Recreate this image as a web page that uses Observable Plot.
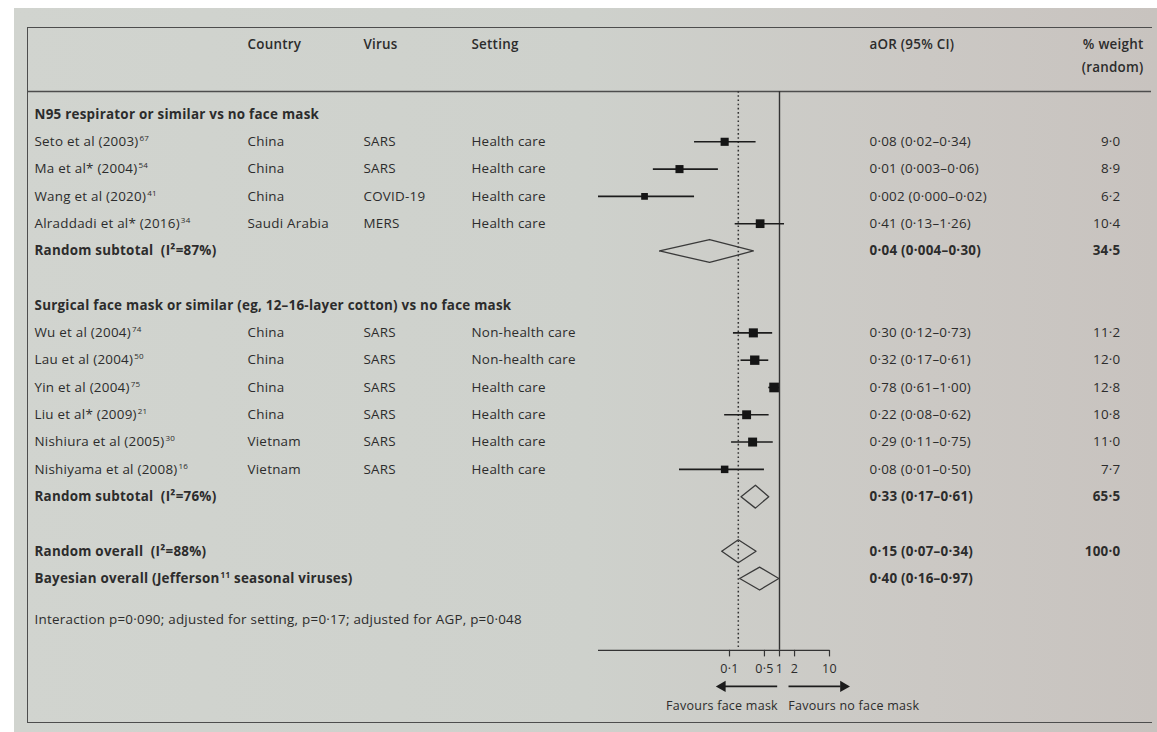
<!DOCTYPE html>
<html>
<head>
<meta charset="utf-8">
<script src="https://cdn.jsdelivr.net/npm/d3@7"></script>
<script src="https://cdn.jsdelivr.net/npm/@observablehq/plot@0.6"></script>
<style>
  html, body { margin: 0; padding: 0; background: #ffffff; width: 1157px; height: 732px; overflow: hidden; }
  #paper { position: absolute; left: 14px; top: 8px; width: 1143px; height: 724px;
           background: linear-gradient(90deg, #d1d4cf 0%, #ced1cc 50%, #cbc8c4 80%, #c8c3bf 100%); }
  #box { position: absolute; left: 27px; top: 27px; width: 1124px; height: 694px;
         border-left: 1.6px solid #4d4d4d; border-top: 1.6px solid #4d4d4d; border-bottom: 1.6px solid #4d4d4d; }
  #chart { position: absolute; left: 0; top: 0; }
</style>
</head>
<body>
<div id="paper"></div>
<div id="box"></div>
<div id="chart"></div>
<script>
// ---------- data ----------
const studyNames = ["Seto et al (2003)", "Ma et al* (2004)", "Wang et al (2020)", "Alraddadi et al* (2016)",
  "Wu et al (2004)", "Lau et al (2004)", "Yin et al (2004)", "Liu et al* (2009)", "Nishiura et al (2005)", "Nishiyama et al (2008)"];
const studyRefs = ["67", "54", "41", "34", "74", "50", "75", "21", "30", "16"];
const studyGroup = [0, 0, 0, 0, 1, 1, 1, 1, 1, 1];
const countries = ["China", "China", "China", "Saudi Arabia", "China", "China", "China", "China", "Vietnam", "Vietnam"];
const viruses = ["SARS", "SARS", "COVID-19", "MERS", "SARS", "SARS", "SARS", "SARS", "SARS", "SARS"];
const settings = ["Health care", "Health care", "Health care", "Health care", "Non-health care", "Non-health care",
  "Health care", "Health care", "Health care", "Health care"];
const studyOR = ["0.08", "0.01", "0.002", "0.41", "0.30", "0.32", "0.78", "0.22", "0.29", "0.08"];
const studyLow = ["0.02", "0.003", "0.000", "0.13", "0.12", "0.17", "0.61", "0.08", "0.11", "0.01"];
const studyHigh = ["0.34", "0.06", "0.02", "1.26", "0.73", "0.61", "1.00", "0.62", "0.75", "0.50"];
const studyWeight = ["9.0", "8.9", "6.2", "10.4", "11.2", "12.0", "12.8", "10.8", "11.0", "7.7"];

const groupTitles = ["N95 respirator or similar vs no face mask",
  "Surgical face mask or similar (eg, 12–16-layer cotton) vs no face mask"];
const subtotalLabels = ["Random subtotal  (I²=87%)", "Random subtotal  (I²=76%)"];
const subtotalOR = ["0.04", "0.33"];
const subtotalLow = ["0.004", "0.17"];
const subtotalHigh = ["0.30", "0.61"];
const subtotalWeight = ["34.5", "65.5"];

const pooledLabels = ["Random overall  (I²=88%)", "Bayesian overall (Jefferson^11 seasonal viruses)"];
const pooledOR = ["0.15", "0.40"];
const pooledLow = ["0.07", "0.16"];
const pooledHigh = ["0.34", "0.97"];
const pooledWeight = ["100.0", ""];

const footnote = "Interaction p=0·090; adjusted for setting, p=0·17; adjusted for AGP, p=0·048";
const columnHeaders = ["Country", "Virus", "Setting", "aOR (95% CI)"];
const weightHeader = ["% weight", "(random)"];
const tickValues = [0.1, 0.5, 1, 2, 10];
const tickLabels = ["0·1", "0·5", "1", "2", "10"];
const favourLabels = ["Favours face mask", "Favours no face mask"];
const nullEffect = 1;

// ---------- layout ----------
const W = 1157, H = 732;
const xMin = 0.00024, xMax = 10;
const col = { study: 7, country: 220, virus: 336, setting: 444, aor: 842, weight: 1093, weightHead: 1116 };
const headerDx = [col.country, col.virus, col.setting, col.aor];
const rowHead1 = -2.55, rowHead2 = -1.72, rowRule = -0.84, rowAxis = 19.63, rowTick = 20.32, rowArrow = 20.95, rowFavour = 21.68;
const fmt = s => s.replace(".", "·");
const ciText = (e, l, h) => `${fmt(e)} (${fmt(l)}–${fmt(h)})`;

const rows = [];
let r = 0;
groupTitles.forEach((title, g) => {
  rows.push({ kind: "group", row: r++, label: title });
  studyNames.forEach((n, i) => {
    if (studyGroup[i] !== g) return;
    rows.push({ kind: "study", row: r++, label: `${n}^${studyRefs[i]}`, country: countries[i], virus: viruses[i],
      setting: settings[i], est: +studyOR[i], lo: +studyLow[i], hi: +studyHigh[i], w: +studyWeight[i],
      ci: ciText(studyOR[i], studyLow[i], studyHigh[i]), wt: fmt(studyWeight[i]) });
  });
  rows.push({ kind: "pool", row: r++, label: subtotalLabels[g], est: +subtotalOR[g], lo: +subtotalLow[g], hi: +subtotalHigh[g],
    ci: ciText(subtotalOR[g], subtotalLow[g], subtotalHigh[g]), wt: fmt(subtotalWeight[g]) });
  r++;
});
pooledLabels.forEach((lab, i) => {
  rows.push({ kind: "pool", row: r++, label: lab, est: +pooledOR[i], lo: +pooledLow[i], hi: +pooledHigh[i],
    ci: ciText(pooledOR[i], pooledLow[i], pooledHigh[i]), wt: fmt(pooledWeight[i]) });
});
const footRow = r + 0.5;

const studies = rows.filter(d => d.kind === "study");
const pools = rows.filter(d => d.kind === "pool");
const h = 0.42;
const diamonds = pools.flatMap((d, i) => [
  { id: i, x: d.lo, y: d.row }, { id: i, x: d.est, y: d.row - h }, { id: i, x: d.hi, y: d.row },
  { id: i, x: d.est, y: d.row + h }, { id: i, x: d.lo, y: d.row }
]);

const ink = "#2c2c2c";
const font = "'Open Sans', 'Noto Sans', sans-serif";
const FS = 13.4;
const T = { frameAnchor: "left", fontSize: FS, fill: ink, textAnchor: "start" };

const chart = Plot.plot({
  width: W, height: H,
  marginLeft: 27, marginRight: 6, marginTop: 27, marginBottom: 10,
  style: { background: "transparent", fontFamily: font, letterSpacing: "0.25px" },
  x: { type: "log", domain: [xMin, xMax], range: [598, 829], axis: null },
  y: { type: "linear", domain: [0, 18.5], range: [114, 619], axis: null },
  r: { type: "sqrt", domain: [0, 13], range: [0, 5.5] },
  marks: [
    // header
    ...columnHeaders.map((t, i) => Plot.text([t], { ...T, y: () => rowHead1, text: d => d, dx: headerDx[i], fontWeight: 600 })),
    ...weightHeader.map((t, i) => Plot.text([t], { ...T, y: () => (i === 0 ? rowHead1 : rowHead2), text: d => d,
      dx: col.weightHead, textAnchor: "end", fontWeight: 600 })),
    Plot.ruleY([rowRule], { stroke: "#4d4d4d", strokeWidth: 1.6 }),
    // reference lines
    Plot.ruleX([nullEffect], { y1: rowRule, y2: rowAxis, stroke: "#333", strokeWidth: 1.4 }),
    Plot.ruleX([+pooledOR[0]], { y1: rowRule, y2: rowAxis, stroke: "#333", strokeWidth: 1.5, strokeDasharray: "1.6,2.6" }),
    // text columns
    Plot.text(rows.filter(d => d.kind === "group"), { ...T, y: "row", text: "label", dx: col.study, fontWeight: 700 }),
    Plot.text(studies, { ...T, y: "row", text: "label", dx: col.study }),
    Plot.text(studies, { ...T, y: "row", text: "country", dx: col.country }),
    Plot.text(studies, { ...T, y: "row", text: "virus", dx: col.virus }),
    Plot.text(studies, { ...T, y: "row", text: "setting", dx: col.setting }),
    Plot.text(studies, { ...T, y: "row", text: "ci", dx: col.aor }),
    Plot.text(studies, { ...T, y: "row", text: "wt", dx: col.weight, textAnchor: "end" }),
    Plot.text(pools, { ...T, y: "row", text: "label", dx: col.study, fontWeight: 700 }),
    Plot.text(pools, { ...T, y: "row", text: "ci", dx: col.aor, fontWeight: 700 }),
    Plot.text(pools, { ...T, y: "row", text: "wt", dx: col.weight, textAnchor: "end", fontWeight: 700 }),
    Plot.text([footnote], { ...T, y: () => footRow, text: d => d, dx: col.study }),
    // CIs and point estimates
    Plot.ruleY(studies, { y: "row", x1: d => Math.max(d.lo, xMin), x2: "hi", stroke: "#1c1c1c", strokeWidth: 1.6 }),
    Plot.dot(studies, { x: "est", y: "row", r: "w", symbol: "square", fill: "#151515" }),
    // diamonds
    Plot.line(diamonds, { x: "x", y: "y", z: "id", stroke: "#3a3a3a", strokeWidth: 1.3, curve: "linear" }),
    // axis
    Plot.ruleY([rowAxis], { x1: xMin, x2: xMax, stroke: "#333", strokeWidth: 1.4 }),
    Plot.ruleX(tickValues, { y1: rowAxis, y2: rowAxis + 0.24, stroke: "#333", strokeWidth: 1.2 }),
    Plot.text(tickValues, { x: d => d, y: () => rowTick, text: (d, i) => tickLabels[i], fontSize: 12.5, fill: ink }),
    // favours arrows
    Plot.ruleY([0], { y: () => rowArrow, x1: 0.92, x2: 0.08, stroke: "#1c1c1c", strokeWidth: 1.6 }),
    Plot.ruleY([0], { y: () => rowArrow, x1: 1.55, x2: 17, stroke: "#1c1c1c", strokeWidth: 1.6 }),
    Plot.dot([0.072, 19], { x: d => d, y: () => rowArrow, symbol: "triangle", r: 4.2, fill: "#1c1c1c",
      rotate: (d, i) => (i === 0 ? -90 : 90) }),
    Plot.text([favourLabels[0]], { x: () => 0.93, y: () => rowFavour, text: d => d, textAnchor: "end", fontSize: 12.5, fill: ink }),
    Plot.text([favourLabels[1]], { x: () => 1.5, y: () => rowFavour, text: d => d, textAnchor: "start", fontSize: 12.5, fill: ink })
  ]
});

// superscript reference numbers written as "^nn"
const NS = "http://www.w3.org/2000/svg";
chart.querySelectorAll("text").forEach(el => {
  const s = el.textContent;
  if (!s.includes("^")) return;
  const parts = s.split(/\^(\d+)/);
  el.textContent = "";
  parts.forEach((p, k) => {
    if (!p) return;
    const t = document.createElementNS(NS, "tspan");
    if (k % 2 === 1) {
      t.setAttribute("font-size", "8");
      t.setAttribute("dy", "-5");
      t.setAttribute("dx", "1");
    } else if (k > 0) {
      t.setAttribute("dy", "5");
    }
    t.textContent = p;
    el.appendChild(t);
  });
});

document.getElementById("chart").appendChild(chart);
</script>
</body>
</html>
